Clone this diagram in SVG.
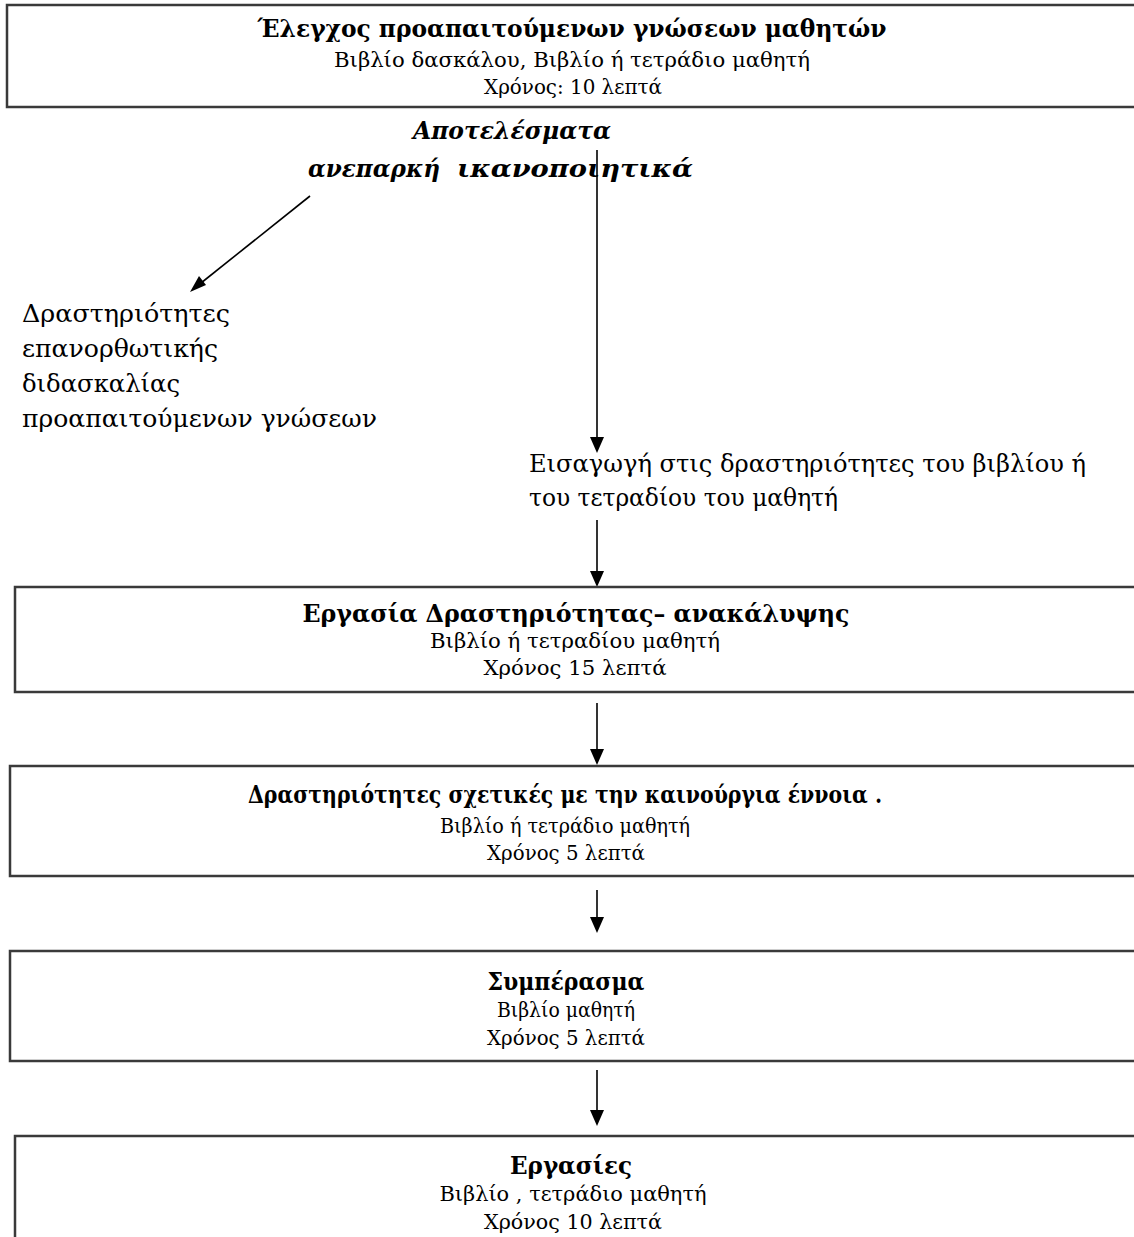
<svg xmlns="http://www.w3.org/2000/svg" width="1134" height="1237" viewBox="0 0 1134 1237">
<defs>
<style>
.box{fill:#fff;stroke:#3a3a3a;stroke-width:2.5}
.t{font-family:"DejaVu Serif","Liberation Serif",serif;fill:#000}
.b{font-weight:bold;font-size:24px}
.s{font-size:20px}
.m{text-anchor:middle}
.big{font-size:24px}
.bi{font-weight:bold;font-style:italic;font-size:24px}
.c{fill:none;stroke:#000;stroke-width:1.6}
.ah{fill:#000}
</style>
</defs>
<rect width="1134" height="1237" fill="#fff"/>
<g id="connectors">
<line class="c" x1="310" y1="196" x2="196" y2="287"/>
<line class="c" x1="597" y1="150" x2="597" y2="440"/>
<line class="c" x1="597" y1="520" x2="597" y2="574"/>
<line class="c" x1="597" y1="703" x2="597" y2="752"/>
<line class="c" x1="597" y1="890" x2="597" y2="920"/>
<line class="c" x1="597" y1="1070" x2="597" y2="1113"/>
<path class="ah" d="M190,292 L199,276 L206,285 z"/>
<path class="ah" d="M590,437 L604,437 L597,453 z"/>
<path class="ah" d="M590,571 L604,571 L597,587 z"/>
<path class="ah" d="M590,749 L604,749 L597,765 z"/>
<path class="ah" d="M590,917 L604,917 L597,933 z"/>
<path class="ah" d="M590,1110 L604,1110 L597,1126 z"/>
</g>
<g id="node-check">
<rect class="box" x="7" y="5" width="1140" height="102"/>
<text class="t b m" x="572" y="37" textLength="629" lengthAdjust="spacingAndGlyphs">Έλεγχος προαπαιτούμενων γνώσεων μαθητών</text>
<text class="t s m" x="572" y="67" textLength="476" lengthAdjust="spacingAndGlyphs">Βιβλίο δασκάλου, Βιβλίο ή τετράδιο μαθητή</text>
<text class="t s m" x="573" y="94" textLength="178" lengthAdjust="spacingAndGlyphs">Χρόνος: 10 λεπτά</text>
</g>
<g id="node-results">
<text class="t bi m" x="512" y="139" textLength="198" lengthAdjust="spacingAndGlyphs">Αποτελέσματα</text>
<text class="t bi" y="177"><tspan x="308" textLength="132" lengthAdjust="spacingAndGlyphs">ανεπαρκή</tspan><tspan x="457" textLength="236" lengthAdjust="spacingAndGlyphs">ικανοποιητικά</tspan></text>
</g>
<g id="node-remedial">
<text class="t big" x="22" y="322" textLength="208" lengthAdjust="spacingAndGlyphs">Δραστηριότητες</text>
<text class="t big" x="22" y="357" textLength="196" lengthAdjust="spacingAndGlyphs">επανορθωτικής</text>
<text class="t big" x="22" y="392" textLength="158" lengthAdjust="spacingAndGlyphs">διδασκαλίας</text>
<text class="t big" x="22" y="427" textLength="355" lengthAdjust="spacingAndGlyphs">προαπαιτούμενων γνώσεων</text>
</g>
<g id="node-intro">
<text class="t big" x="529" y="472" textLength="557" lengthAdjust="spacingAndGlyphs">Εισαγωγή στις δραστηριότητες του βιβλίου ή</text>
<text class="t big" x="529" y="506" textLength="309" lengthAdjust="spacingAndGlyphs">του τετραδίου του μαθητή</text>
</g>
<g id="node-discovery">
<rect class="box" x="15" y="587" width="1140" height="105"/>
<text class="t b m" x="576" y="622" textLength="547" lengthAdjust="spacingAndGlyphs">Εργασία Δραστηριότητας– ανακάλυψης</text>
<text class="t s m" x="575" y="648" textLength="290" lengthAdjust="spacingAndGlyphs">Βιβλίο ή τετραδίου μαθητή</text>
<text class="t s m" x="575" y="675" textLength="183" lengthAdjust="spacingAndGlyphs">Χρόνος 15 λεπτά</text>
</g>
<g id="node-activities">
<rect class="box" x="10" y="766" width="1140" height="110"/>
<text class="t b" x="248" y="803" textLength="634" lengthAdjust="spacingAndGlyphs">Δραστηριότητες σχετικές με την καινούργια έννοια .</text>
<text class="t s m" x="565" y="833" textLength="250" lengthAdjust="spacingAndGlyphs">Βιβλίο ή τετράδιο μαθητή</text>
<text class="t s m" x="566" y="860" textLength="158" lengthAdjust="spacingAndGlyphs">Χρόνος 5 λεπτά</text>
</g>
<g id="node-conclusion">
<rect class="box" x="10" y="951" width="1140" height="110"/>
<text class="t b m" x="566" y="990" textLength="157" lengthAdjust="spacingAndGlyphs">Συμπέρασμα</text>
<text class="t s m" x="566" y="1017" textLength="138" lengthAdjust="spacingAndGlyphs">Βιβλίο μαθητή</text>
<text class="t s m" x="566" y="1045" textLength="158" lengthAdjust="spacingAndGlyphs">Χρόνος 5 λεπτά</text>
</g>
<g id="node-tasks">
<rect class="box" x="15" y="1136" width="1140" height="120"/>
<text class="t b m" x="571" y="1174" textLength="122" lengthAdjust="spacingAndGlyphs">Εργασίες</text>
<text class="t s m" x="573" y="1201" textLength="267" lengthAdjust="spacingAndGlyphs">Βιβλίο , τετράδιο μαθητή</text>
<text class="t s m" x="573" y="1229" textLength="178" lengthAdjust="spacingAndGlyphs">Χρόνος 10 λεπτά</text>
</g>
</svg>
